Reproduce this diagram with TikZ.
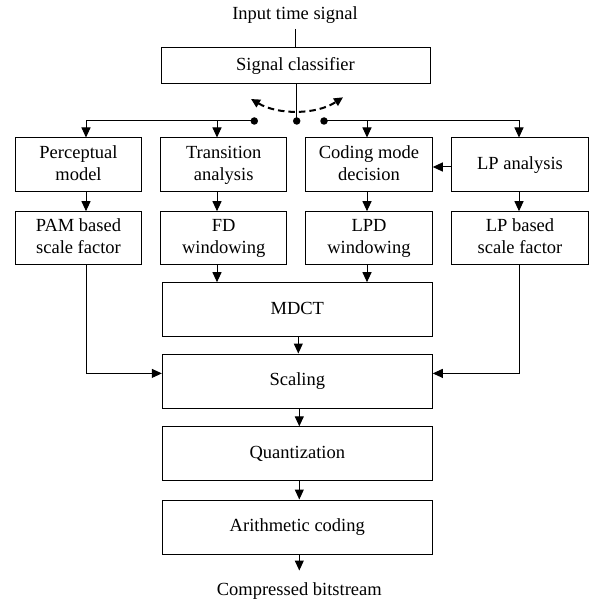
\documentclass[tikz,border=0pt]{standalone}
\usepackage{fontspec}
\setmainfont{Liberation Serif}
\usetikzlibrary{arrows.meta}
\begin{document}
\begin{tikzpicture}[x=1pt,y=-1pt,
  lbl/.style={font=\fontsize{18.5}{21.5}\selectfont, inner sep=0pt},
  blk/.style={draw, line width=1pt, align=center, inner sep=0pt, font=\fontsize{18.5}{21.5}\selectfont},
  wide/.style={blk, minimum width=270pt, minimum height=54pt},
  col/.style={blk, minimum width=126.5pt, minimum height=54pt},
  ln/.style={line width=1pt},
  arr/.style={line width=1pt, -{Triangle[length=10pt,width=9pt]}},
  dot/.style={circle, fill, inner sep=0pt, minimum size=7.5pt},
  swarc/.style={line width=2pt, dash pattern=on 6.5pt off 4pt, {Triangle[length=9pt,width=8.5pt]}-{Triangle[length=9pt,width=8.5pt]}}
]
\useasboundingbox (0,0) rectangle (590,601);

% labels and coordinates
\node[lbl] (in) at (295,15.5) {Input time signal};
\coordinate (inbot) at (295,29);
\node[lbl, anchor=base] (out) at (299.3,595) {Compressed bitstream};
\coordinate (outtip) at (299.3,570.5);

% boxes
\node[blk, minimum width=269pt, minimum height=36pt] (cls) at (295.5,66) {\strut Signal classifier};
\node[col] (perc) at (78.5,165) {\strut Perceptual\\\strut model};
\node[col] (trans) at (223.7,165) {\strut Transition\\\strut analysis};
\node[col] (code) at (369,165) {\strut Coding mode\\\strut decision};
\node[blk, minimum width=137pt, minimum height=54pt] (lp) at (520,165) {\strut LP analysis};
\node[col, minimum height=53pt] (pam) at (78.5,238.2) {\strut PAM based\\\strut scale factor};
\node[col, minimum height=53pt] (fd) at (223.7,238.2) {\strut FD\\\strut windowing};
\node[col, minimum height=53pt] (lpd) at (369,238.2) {\strut LPD\\\strut windowing};
\node[blk, minimum width=137pt, minimum height=53pt] (lpsf) at (520,238.2) {\strut LP based\\\strut scale factor};
\node[wide] (mdct) at (297.3,309.7) {\strut MDCT};
\node[wide] (scal) at (297.3,381) {\strut Scaling};
\node[wide] (quant) at (297.3,453.8) {\strut Quantization};
\node[wide] (arith) at (297.3,527) {\strut Arithmetic coding};

% switch
\node[dot] (sw) at (296.7,121) {};
\node[dot] (dl) at (254.3,121) {};
\node[dot] (dr) at (324,121) {};
\draw[swarc] (251,99) .. controls (278,115) and (316,115) .. (343,97.3);

% connectors
\draw[ln] (inbot) -- (inbot |- cls.north);
\draw[ln] ([xshift=1.2]cls.south) -- (sw.center);
\draw[arr] (dl.center) -| ([xshift=7.5]perc.north);
\draw[arr] ([xshift=-6.7]trans.north |- dl) -- ([xshift=-6.7]trans.north);
\draw[arr] (dr.center) -| ([xshift=-1]lp.north);
\draw[arr] ([xshift=-2]code.north |- dr) -- ([xshift=-2]code.north);
\draw[arr] ([yshift=-2]lp.west) -- ([yshift=-2]code.east);

\draw[arr] ([xshift=7.5]perc.south) -- ([xshift=7.5]pam.north);
\draw[arr] ([xshift=-6.7]trans.south) -- ([xshift=-6.7]fd.north);
\draw[arr] ([xshift=-2]code.south) -- ([xshift=-2]lpd.north);
\draw[arr] ([xshift=-1]lp.south) -- ([xshift=-1]lpsf.north);

\draw[arr] ([xshift=-6.7]fd.south) -- ([xshift=-6.7]fd.south |- mdct.north);
\draw[arr] ([xshift=-2]lpd.south) -- ([xshift=-2]lpd.south |- mdct.north);

\draw[arr] ([xshift=7.5]pam.south) |- ([yshift=7.6]scal.west);
\draw[arr] ([xshift=-1]lpsf.south) |- ([yshift=7.6]scal.east);

\draw[arr] ([xshift=1]mdct.south) -- ([xshift=1]scal.north);
\draw[arr] ([xshift=2]scal.south) -- ([xshift=2]quant.north);
\draw[arr] ([xshift=2]quant.south) -- ([xshift=2]arith.north);
\draw[arr] ([xshift=2]arith.south) -- (outtip);
\end{tikzpicture}
\end{document}
